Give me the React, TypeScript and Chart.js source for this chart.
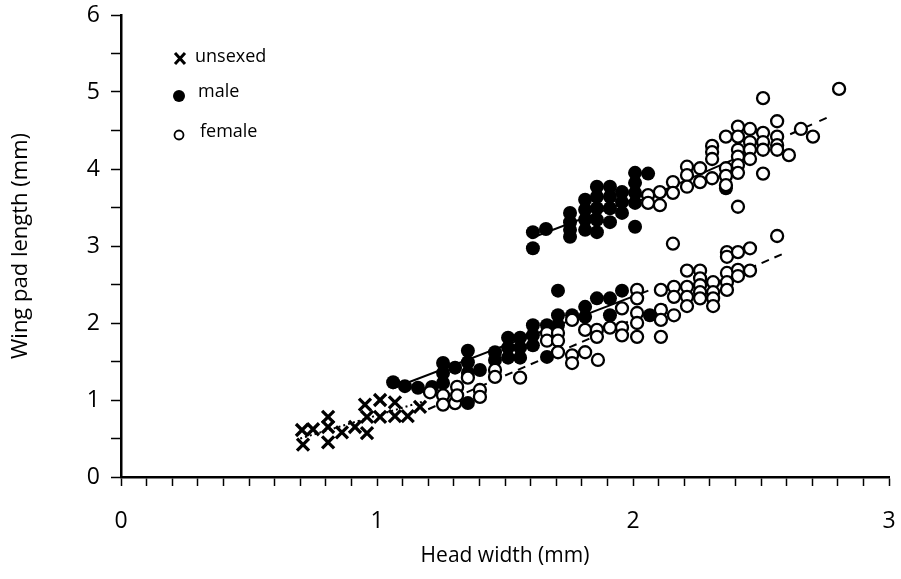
import React, { useEffect, useRef } from "react";
import { Chart, registerables } from "chart.js";

Chart.register(...registerables);

// Head width (mm) / wing pad length (mm)
const unsexedHW = [0.711, 0.707, 0.75, 0.809, 0.809, 0.809, 0.863, 0.914, 0.961, 0.961, 0.953, 1.012, 1.012, 1.07, 1.07, 1.12, 1.168];
const unsexedWP = [0.42, 0.61, 0.62, 0.45, 0.78, 0.65, 0.58, 0.65, 0.57, 0.78, 0.94, 0.78, 1.0, 0.79, 0.97, 0.79, 0.91];

const maleHW = [
  1.609, 1.609, 1.66, 1.754, 1.754, 1.754, 1.754, 1.813, 1.813, 1.813, 1.813, 1.859, 1.859, 1.859, 1.859, 1.859,
  1.91, 1.91, 1.91, 1.91, 1.957, 1.957, 1.957, 2.008, 2.008, 2.008, 2.008, 2.008, 2.059, 2.363,
  1.063, 1.109, 1.16, 1.215, 1.258, 1.258, 1.258, 1.305, 1.355, 1.355, 1.355, 1.355, 1.402, 1.461, 1.461,
  1.512, 1.512, 1.512, 1.559, 1.559, 1.559, 1.609, 1.609, 1.609, 1.664, 1.664, 1.707, 1.707, 1.707, 1.762,
  1.813, 1.813, 1.859, 1.91, 1.91, 1.957, 2.066,
];
const maleWP = [
  3.18, 2.97, 3.22, 3.43, 3.31, 3.21, 3.12, 3.6, 3.47, 3.34, 3.21, 3.77, 3.64, 3.49, 3.34, 3.18,
  3.77, 3.64, 3.49, 3.31, 3.7, 3.57, 3.43, 3.95, 3.82, 3.69, 3.56, 3.25, 3.94, 3.75,
  1.23, 1.18, 1.16, 1.17, 1.48, 1.35, 1.22, 1.42, 1.64, 1.49, 1.35, 0.96, 1.39, 1.62, 1.52,
  1.81, 1.68, 1.55, 1.81, 1.68, 1.55, 1.97, 1.84, 1.71, 1.97, 1.56, 2.42, 2.1, 1.97, 2.1,
  2.21, 2.08, 2.32, 2.32, 2.1, 2.42, 2.1,
];

const femaleHW = [
  1.207, 1.258, 1.258, 1.305, 1.313, 1.313, 1.355, 1.402, 1.402, 1.461, 1.461, 1.559, 1.664, 1.664, 1.707,
  1.707, 1.707, 1.762, 1.762, 1.762, 1.813, 1.813, 1.859, 1.859, 1.863, 1.91, 1.957, 1.957, 1.957,
  2.016, 2.016, 2.016, 2.016, 2.016, 2.109, 2.109, 2.109, 2.109, 2.156, 2.16, 2.16, 2.16,
  2.211, 2.211, 2.211, 2.211, 2.262, 2.262, 2.262, 2.262, 2.262, 2.313, 2.313, 2.313, 2.313,
  2.367, 2.367, 2.367, 2.367, 2.367, 2.41, 2.41, 2.41, 2.457, 2.457, 2.563,
  2.059, 2.059, 2.105, 2.105, 2.156, 2.156, 2.211, 2.211, 2.211, 2.262, 2.262, 2.309, 2.309, 2.309, 2.309,
  2.363, 2.363, 2.363, 2.363, 2.41, 2.41, 2.41, 2.41, 2.41, 2.41, 2.41, 2.457, 2.457, 2.457, 2.457,
  2.508, 2.508, 2.508, 2.508, 2.508, 2.563, 2.563, 2.563, 2.563, 2.609, 2.656, 2.703, 2.805,
];
const femaleWP = [
  1.1, 1.06, 0.94, 0.96, 1.17, 1.06, 1.29, 1.13, 1.04, 1.39, 1.3, 1.29, 1.87, 1.77, 1.87,
  1.77, 1.62, 2.04, 1.58, 1.48, 1.91, 1.62, 1.91, 1.82, 1.52, 1.94, 2.19, 1.94, 1.84,
  2.43, 2.32, 2.13, 2.0, 1.82, 2.43, 2.17, 2.04, 1.82, 3.03, 2.47, 2.34, 2.1,
  2.68, 2.47, 2.34, 2.22, 2.68, 2.58, 2.49, 2.4, 2.32, 2.53, 2.4, 2.32, 2.22,
  2.92, 2.86, 2.65, 2.53, 2.43, 2.92, 2.69, 2.61, 2.97, 2.68, 3.13,
  3.66, 3.56, 3.7, 3.53, 3.83, 3.69, 4.03, 3.92, 3.77, 4.01, 3.83, 4.3, 4.22, 4.13, 3.88,
  4.42, 4.01, 3.91, 3.79, 4.55, 4.42, 4.25, 4.16, 4.05, 3.95, 3.51, 4.52, 4.35, 4.25, 4.13,
  4.92, 4.47, 4.35, 4.25, 3.94, 4.62, 4.42, 4.31, 4.25, 4.18, 4.52, 4.42, 5.04,
];

// Regression line end points
const unsexedLineHW = [0.7, 1.18];
const unsexedLineWP = [0.5, 0.98];
const maleLowLineHW = [1.06, 2.06];
const maleLowLineWP = [1.15, 2.42];
const femaleLowLineHW = [1.2, 2.6];
const femaleLowLineWP = [0.88, 2.92];
const maleUpLineHW = [1.6, 2.06];
const maleUpLineWP = [3.1, 3.68];
const femaleUpLineHW = [2.0, 2.5];
const femaleUpLineWP = [3.55, 4.28];
const femaleUpExtHW = [2.5, 2.78];
const femaleUpExtWP = [4.28, 4.7];

const legendLabels = ["unsexed", "male", "female"];
const xTitle = "Head width (mm)";
const yTitle = "Wing pad length (mm)";

const FONT = "'Open Sans', Lato, sans-serif";

const pts = (xs: number[], ys: number[]) => xs.map((x, i) => ({ x, y: ys[i] }));

const legendPlugin = {
  id: "customLegend",
  afterDraw(chart: any) {
    const ctx = chart.ctx;
    ctx.save();
    ctx.fillStyle = "#000";
    ctx.strokeStyle = "#000";
    ctx.font = `18px ${FONT}`;
    ctx.textBaseline = "middle";
    ctx.textAlign = "left";
    // cross
    ctx.lineWidth = 3;
    ctx.beginPath();
    ctx.moveTo(175, 53); ctx.lineTo(185, 64);
    ctx.moveTo(185, 53); ctx.lineTo(175, 64);
    ctx.stroke();
    ctx.fillText(legendLabels[0], 195, 57);
    // filled circle
    ctx.beginPath();
    ctx.arc(179, 96, 6, 0, Math.PI * 2);
    ctx.fill();
    ctx.fillText(legendLabels[1], 198, 92);
    // open circle
    ctx.lineWidth = 1.8;
    ctx.beginPath();
    ctx.arc(179, 135, 4.5, 0, Math.PI * 2);
    ctx.stroke();
    ctx.fillText(legendLabels[2], 200, 132);
    ctx.restore();
  },
};

const isInt = (v: number) => Math.abs(v - Math.round(v)) < 1e-6;

export default function App() {
  const ref = useRef<HTMLCanvasElement>(null);
  useEffect(() => {
    if (!ref.current) return;
    const lineDs = (xs: number[], ys: number[], dash: number[], width = 2) => ({
      type: "line" as const,
      data: pts(xs, ys),
      showLine: true,
      borderColor: "#000",
      borderWidth: width,
      borderDash: dash,
      pointRadius: 0,
      fill: false,
      tension: 0,
    });
    const chart = new Chart(ref.current, {
      type: "scatter",
      data: {
        datasets: [
          {
            label: legendLabels[2],
            data: pts(femaleHW, femaleWP),
            pointStyle: "circle",
            pointRadius: 6,
            borderWidth: 2.3,
            borderColor: "#000",
            backgroundColor: "#fff",
          },
          {
            label: legendLabels[1],
            data: pts(maleHW, maleWP),
            pointStyle: "circle",
            pointRadius: 7,
            borderWidth: 0,
            borderColor: "#000",
            backgroundColor: "#000",
          },
          {
            label: legendLabels[0],
            data: pts(unsexedHW, unsexedWP),
            pointStyle: "crossRot",
            pointRadius: 8.5,
            borderWidth: 3.3,
            borderColor: "#000",
            backgroundColor: "#000",
          },
          lineDs(unsexedLineHW, unsexedLineWP, [2, 3]),
          lineDs(maleLowLineHW, maleLowLineWP, []),
          lineDs(femaleLowLineHW, femaleLowLineWP, [8, 6]),
          lineDs(maleUpLineHW, maleUpLineWP, []),
          lineDs(femaleUpLineHW, femaleUpLineWP, []),
          lineDs(femaleUpExtHW, femaleUpExtWP, [8, 8]),
        ] as any,
      },
      options: {
        animation: false,
        responsive: false,
        events: [],
        layout: { padding: { left: 0, top: 15, right: 12, bottom: 0 } },
        plugins: { legend: { display: false }, tooltip: { enabled: false } },
        scales: {
          x: {
            type: "linear",
            min: 0,
            max: 3,
            afterFit: (s: any) => { s.height = 102; s.paddingLeft = 0; s.paddingRight = 0; },
            border: { display: true, color: "#000", width: 2.5 },
            grid: { display: true, drawOnChartArea: false, drawTicks: true, tickLength: 9, tickColor: "#000", tickWidth: 1.5 },
            ticks: {
              stepSize: 0.1,
              autoSkip: false,
              maxRotation: 0,
              padding: 22,
              color: "#000",
              font: { family: FONT, size: 23 },
              callback: (v: any) => (isInt(Number(v)) ? String(Math.round(Number(v))) : ""),
            },
            title: { display: true, text: xTitle, color: "#000", font: { family: FONT, size: 21 }, padding: 10 },
          },
          y: {
            type: "linear",
            min: 0,
            max: 6,
            afterFit: (s: any) => { s.width = 121; s.paddingTop = 0; s.paddingBottom = 0; },
            border: { display: true, color: "#000", width: 2.5 },
            grid: { display: true, drawOnChartArea: false, drawTicks: true, tickLength: 10, tickColor: "#000", tickWidth: 1.5 },
            ticks: {
              stepSize: 0.5,
              autoSkip: false,
              padding: 11,
              color: "#000",
              font: { family: FONT, size: 23 },
              callback: (v: any) => (isInt(Number(v)) ? String(Math.round(Number(v))) : ""),
            },
            title: { display: true, text: yTitle, color: "#000", font: { family: FONT, size: 22 }, padding: 8 },
          },
        },
      },
      plugins: [legendPlugin],
    } as any);
    return () => chart.destroy();
  }, []);
  return (
    <div style={{ position: "fixed", left: 0, top: 0, width: 901, height: 579, background: "#fff" }}>
      <canvas ref={ref} width={901} height={579} style={{ width: 901, height: 579, display: "block" }} />
    </div>
  );
}
